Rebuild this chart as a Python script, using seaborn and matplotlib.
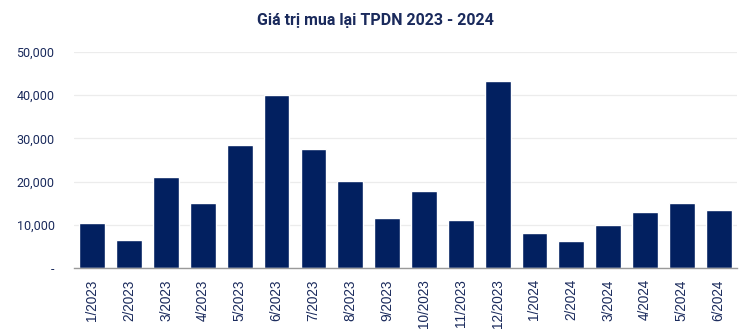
import matplotlib
matplotlib.use("Agg")
import matplotlib.pyplot as plt
import seaborn as sns
import pandas as pd
from matplotlib.ticker import FuncFormatter, FixedLocator

# Monthly corporate bond buyback value
months = ["1/2023", "2/2023", "3/2023", "4/2023", "5/2023", "6/2023",
          "7/2023", "8/2023", "9/2023", "10/2023", "11/2023", "12/2023",
          "1/2024", "2/2024", "3/2024", "4/2024", "5/2024", "6/2024"]
values = [10400, 6500, 21000, 15000, 28500, 40000,
          27500, 20100, 11700, 17800, 11100, 43300,
          8100, 6200, 10000, 12900, 15000, 13400]
y_ticks = [0, 10000, 20000, 30000, 40000, 50000]
title = "Giá trị mua lại TPDN 2023 - 2024"

NAVY = "#022060"
TEXT = "#1a2a5c"

sns.set_theme(style="white")
plt.rcParams["font.family"] = ["Roboto", "DejaVu Sans"]

df = pd.DataFrame({"month": months, "value": values})

fig = plt.figure(figsize=(7.51, 3.31), dpi=100)
ax = fig.add_axes([0.0985, 0.19, 0.883, 0.653])

sns.barplot(data=df, x="month", y="value", color=NAVY, width=0.7,
            saturation=1, ax=ax)

ax.set_ylim(0, 50000)
ax.set_xlim(-0.5, len(months) - 0.5)
ax.yaxis.set_major_locator(FixedLocator(y_ticks))
ax.yaxis.set_major_formatter(FuncFormatter(lambda v, p: "-" if v == 0 else f"{int(v):,}"))
ax.grid(axis="y", color="#ececec", linewidth=0.9)
ax.set_axisbelow(True)

for side in ["top", "right", "left"]:
    ax.spines[side].set_visible(False)
ax.spines["bottom"].set_color("#9a9a9a")
ax.spines["bottom"].set_linewidth(1.0)

# tick marks sit between categories, labels under each bar
ax.set_xticks(range(len(months)))
ax.set_xticklabels(months, rotation=90, fontsize=9.8, color=TEXT,
                   family=["Liberation Sans", "DejaVu Sans"])
ax.set_xticks([i - 0.5 for i in range(len(months) + 1)], minor=True)
ax.tick_params(axis="x", which="major", length=0, pad=8)
ax.tick_params(axis="x", which="minor", length=4, color="#9a9a9a", width=1.0, direction="out")
ax.tick_params(axis="y", length=0, pad=14, labelsize=9, labelcolor=TEXT)

ax.set_xlabel("")
ax.set_ylabel("")

fig.text(0.5, 0.937, title, ha="center", va="center", fontsize=11.5,
         fontweight="bold", color=TEXT)

fig.savefig("out.png", dpi=100, facecolor="white")
